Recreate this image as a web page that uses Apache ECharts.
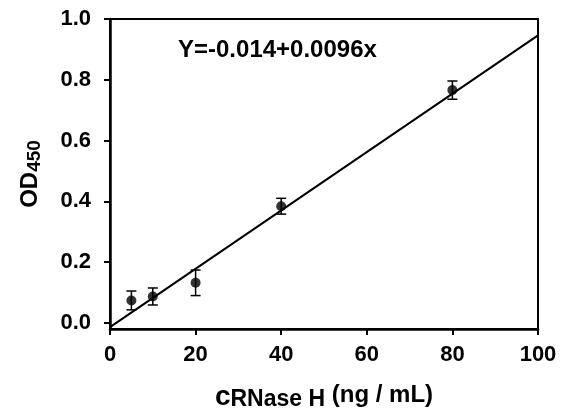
<!DOCTYPE html>
<html>
<head>
<meta charset="utf-8">
<script src="https://cdn.jsdelivr.net/npm/echarts@6/dist/echarts.min.js"></script>
<style>
  html, body { margin: 0; padding: 0; background: #fff; }
  #chart { width: 561px; height: 419px; }
</style>
</head>
<body>
<div id="chart"></div>
<script>
// measured points (concentration, OD450 mean, error)
var conc = [5, 10, 20, 40, 80];
var od = [0.074, 0.087, 0.132, 0.384, 0.766];
var err = [0.031, 0.028, 0.042, 0.026, 0.030];
// fitted line end points
var fitLine = [[0, -0.014], [100, 0.946]];
var yTicks = [0, 0.2, 0.4, 0.6, 0.8, 1.0];
var equation = 'Y=-0.014+0.0096x';

var font = "'Liberation Sans', Arial, sans-serif";

var points = conc.map(function (c, i) { return [c, od[i]]; });
var bars = conc.map(function (c, i) { return [c, od[i] - err[i], od[i] + err[i]]; });

var myChart = echarts.init(document.getElementById('chart'));

option = {
    backgroundColor: '#fff',
    animation: false,
    grid: {
        left: 110,
        right: 23,
        top: 19,
        bottom: 90,
        show: true,
        borderColor: '#000',
        borderWidth: 2
    },
    xAxis: {
        type: 'value',
        min: 0,
        max: 100,
        interval: 20,
        name: '{c|c}{sub|RNase H}{n| (ng / mL)}',
        nameLocation: 'middle',
        nameGap: 50,
        nameTextStyle: {
            rich: {
                c: { fontFamily: font, fontWeight: 'bold', fontSize: 28, color: '#000', lineHeight: 28, verticalAlign: 'top' },
                sub: { fontFamily: font, fontWeight: 'bold', fontSize: 23, color: '#000', lineHeight: 24, padding: [17, 0, 0, 0], verticalAlign: 'bottom' },
                n: { fontFamily: font, fontWeight: 'bold', fontSize: 24, color: '#000', lineHeight: 28, verticalAlign: 'top' }
            }
        },
        splitLine: { show: false },
        axisLine: { onZero: false, lineStyle: { color: '#000', width: 2.5 } },
        axisTick: { length: 6, lineStyle: { color: '#000', width: 2 } },
        axisLabel: {
            margin: 15,
            fontFamily: font,
            fontWeight: 'bold',
            fontSize: 22,
            color: '#000'
        }
    },
    yAxis: {
        type: 'value',
        min: -0.02,
        max: 1.0,
        name: '{a|OD}{s|450}',
        nameLocation: 'middle',
        nameRotate: 90,
        nameGap: 66,
        nameTextStyle: {
            rich: {
                a: { fontFamily: font, fontWeight: 'bold', fontSize: 24, color: '#000', lineHeight: 26, verticalAlign: 'top' },
                s: { fontFamily: font, fontWeight: 'bold', fontSize: 19, color: '#000', lineHeight: 20, padding: [7, 0, 0, 0], verticalAlign: 'bottom' }
            }
        },
        splitLine: { show: false },
        axisLine: { onZero: false, lineStyle: { color: '#000', width: 2.5 } },
        axisTick: { length: 6, customValues: yTicks, lineStyle: { color: '#000', width: 2 } },
        axisLabel: {
            customValues: yTicks,
            margin: 19,
            fontFamily: font,
            fontWeight: 'bold',
            fontSize: 22,
            color: '#000',
            formatter: function (v) { return v.toFixed(1); }
        }
    },
    graphic: [{
        type: 'text',
        left: 178,
        top: 38,
        style: {
            text: equation,
            font: 'bold 24px ' + font,
            fill: '#000'
        }
    }],
    series: [
        {
            name: 'fit',
            type: 'line',
            data: fitLine,
            symbol: 'none',
            lineStyle: { color: '#000', width: 2 },
            z: 2
        },
        {
            name: 'error',
            type: 'custom',
            data: bars,
            renderItem: function (params, api) {
                var lo = api.coord([api.value(0), api.value(1)]);
                var hi = api.coord([api.value(0), api.value(2)]);
                var w = 5;
                var st = { stroke: '#000', lineWidth: 1.5 };
                return {
                    type: 'group',
                    children: [
                        { type: 'line', shape: { x1: hi[0], y1: hi[1], x2: lo[0], y2: lo[1] }, style: st },
                        { type: 'line', shape: { x1: hi[0] - w, y1: hi[1], x2: hi[0] + w, y2: hi[1] }, style: st },
                        { type: 'line', shape: { x1: lo[0] - w, y1: lo[1], x2: lo[0] + w, y2: lo[1] }, style: st }
                    ]
                };
            },
            z: 3
        },
        {
            name: 'data',
            type: 'scatter',
            data: points,
            symbol: 'circle',
            symbolSize: 10,
            itemStyle: { color: '#000' },
            z: 4
        }
    ]
};

myChart.setOption(option);
</script>
</body>
</html>
